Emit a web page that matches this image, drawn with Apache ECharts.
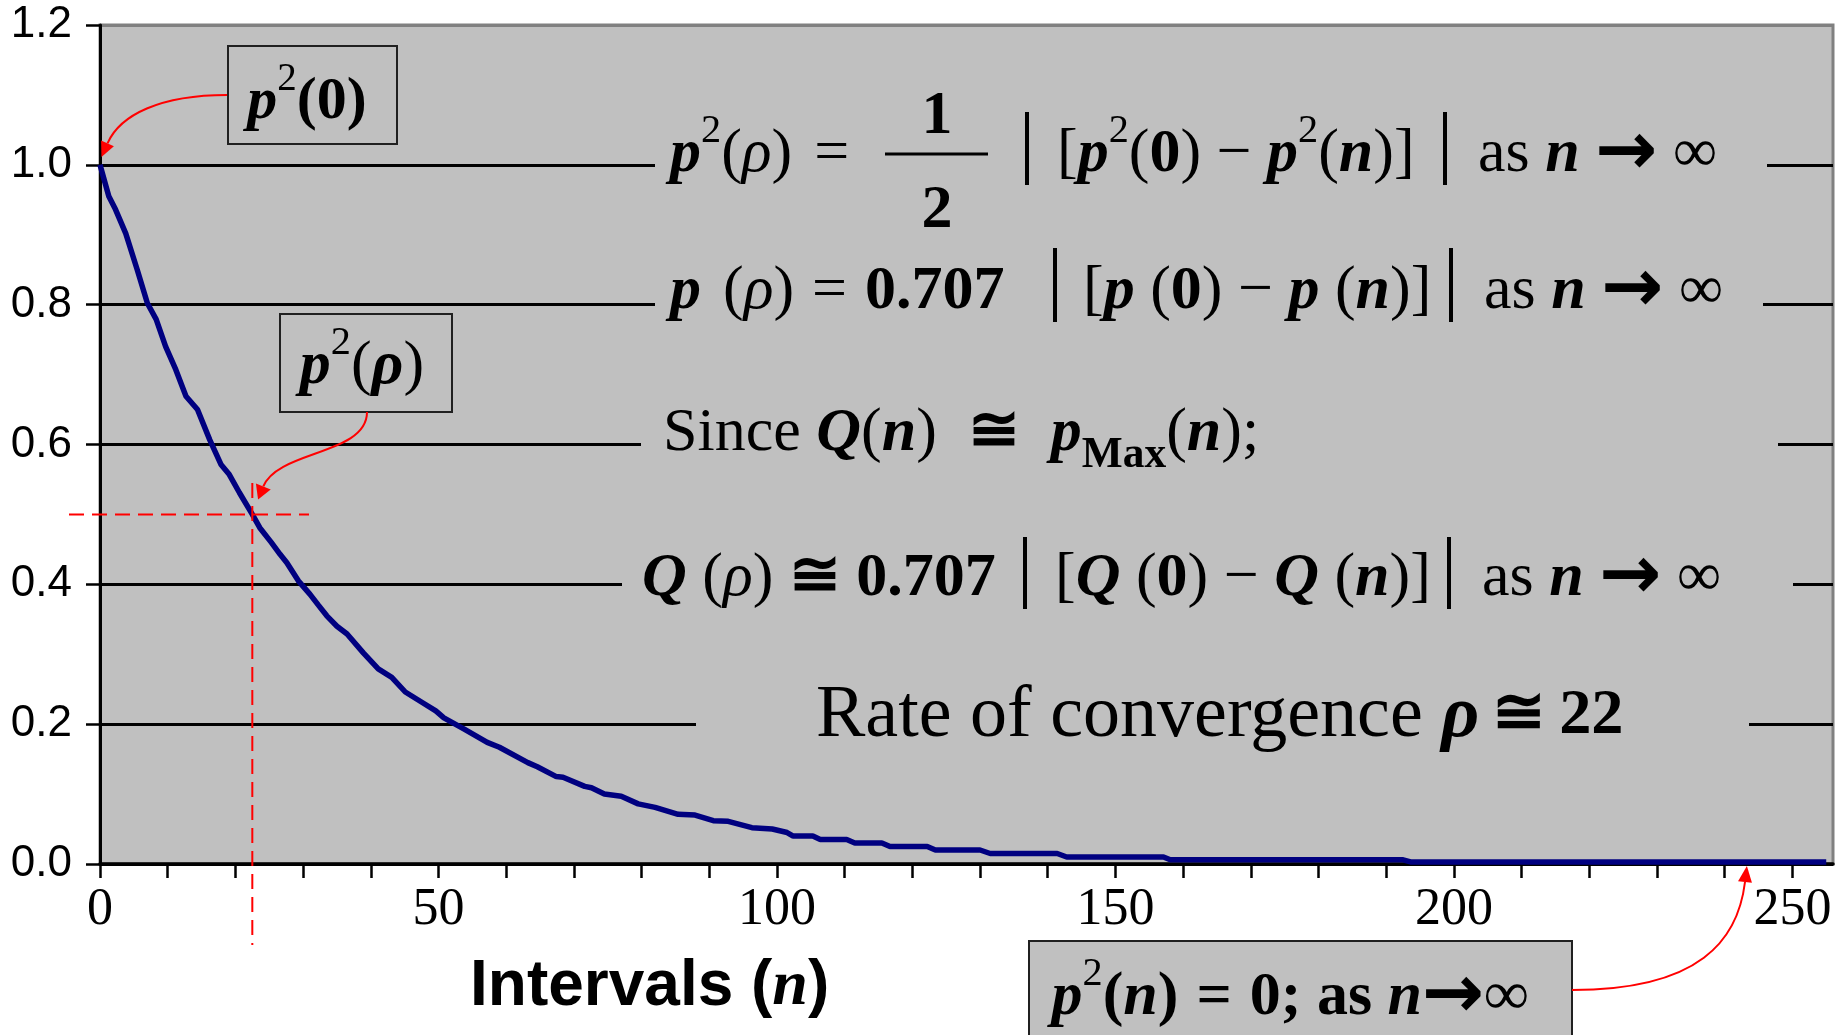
<!DOCTYPE html>
<html>
<head>
<meta charset="utf-8">
<script src="https://cdn.jsdelivr.net/npm/echarts@6/dist/echarts.min.js"></script>
<style>
html,body{margin:0;padding:0;background:#ffffff;}
#c{width:1841px;height:1035px;}
</style>
</head>
<body>
<div id="c"></div>
<script>
// ---------------- DATA ----------------
const intervals = [0,1.3,2.3,3.8,5.5,7.0,8.3,9.7,11.2,12.7,
  14.4,16.2,17.9,19.1,20.6,22.5,23.6,25.3,26.6,27.6,
  29.3,31.0,32.2,33.5,35.0,36.5,38.9,41.1,43.1,45.1,
  47.6,49.6,50.8,53.8,57.2,59.0,63.2,64.6,67.4,68.4,
  71.6,72.6,74.5,77.0,79.5,82.0,85.4,87.9,90.6,92.8,
  96.3,99.3,101.5,102.4,105.3,106.4,110.3,111.5,115.5,116.7,
  122.2,123.4,130.0,131.5,141.4,142.8,157.1,158.1,192.5,193.6,
  255];
const p2Values = [1.000,0.955,0.936,0.902,0.850,0.802,0.779,0.740,0.707,0.669,
  0.650,0.607,0.571,0.557,0.531,0.500,0.481,0.460,0.443,0.431,
  0.405,0.386,0.371,0.355,0.340,0.329,0.302,0.279,0.267,0.246,
  0.231,0.219,0.209,0.193,0.174,0.167,0.145,0.139,0.125,0.124,
  0.111,0.109,0.100,0.097,0.086,0.081,0.071,0.070,0.062,0.061,
  0.052,0.050,0.045,0.040,0.040,0.035,0.035,0.030,0.030,0.025,
  0.025,0.020,0.020,0.015,0.015,0.010,0.010,0.006,0.006,0.003,
  0.003];
const xTickValues = [0,10,20,30,40,50,60,70,80,90,100,110,120,130,140,150,160,170,180,190,200,210,220,230,240,250];
const xLabelValues = [0,50,100,150,200,250];
const yTickValues = [0,0.2,0.4,0.6,0.8,1.0,1.2];
const rhoMarkN = 22.5;      // dashed guide: rate of convergence
const halfValue = 0.5;      // dashed guide: half of p^2(0)
const startValue = 1.0;     // p^2(0)

// ---------------- STYLE ----------------
const SERIF = '"Liberation Serif","Times New Roman",serif';
const SANS = '"Liberation Sans",Arial,sans-serif';
const GRAY = '#c0c0c0';
const MID = 0.26; // baseline -> middle offset factor

const seriesData = intervals.map((n, i) => [n, p2Values[i]]);

const option = {
  animation: false,
  backgroundColor: '#ffffff',
  grid: {
    left: 100, right: 8, top: 25, bottom: 171,
    show: true, backgroundColor: GRAY, borderColor: '#808080', borderWidth: 3,
    containLabel: false, outerBoundsMode: 'none'
  },
  xAxis: {
    type: 'value', min: 0, max: 256, interval: 10,
    axisLine: { show: true, onZero: false, lineStyle: { color: '#000', width: 3.5 } },
    axisTick: { show: true, length: 14, lineStyle: { color: '#000', width: 2.5 }, customValues: xTickValues },
    axisLabel: { show: true, margin: 20, fontFamily: SERIF, fontSize: 52, color: '#000', customValues: xLabelValues,
      formatter: v => String(v) },
    splitLine: { show: false }
  },
  yAxis: {
    type: 'value', min: 0, max: 1.2, interval: 0.2,
    axisLine: { show: true, lineStyle: { color: '#000', width: 3 } },
    axisTick: { show: true, length: 14, lineStyle: { color: '#000', width: 2.5 } },
    axisLabel: { show: true, margin: 28, fontFamily: SANS, fontSize: 44, color: '#000',
      formatter: v => v.toFixed(1) },
    splitLine: { show: true, lineStyle: { color: ['#000','#000','#000','#000','#000','#000','#808080'], width: 3 } }
  },
  series: [{
    type: 'line', data: seriesData, showSymbol: false, symbol: 'none', smooth: false,
    lineStyle: { color: '#000080', width: 5.5 }, z: 3, clip: false
  }]
};

const chart = echarts.init(document.getElementById('c'));
chart.setOption(option);

const P = (x, y) => chart.convertToPixel({ gridIndex: 0 }, [x, y]);

function richStyles(fs) {
  const H = 1.4 * fs;
  const base = { fontFamily: SERIF, fontSize: fs, lineHeight: H, color: '#000' };
  const st = {
    r: Object.assign({}, base),
    b: Object.assign({}, base, { fontWeight: 'bold' }),
    bs: Object.assign({}, base, { fontWeight: 'bold', fontSize: 0.87 * fs }),
    i: Object.assign({}, base, { fontStyle: 'italic' }),
    bi: Object.assign({}, base, { fontStyle: 'italic', fontWeight: 'bold' }),
    arr: Object.assign({}, base, { fontFamily: '"DejaVu Sans",sans-serif', fontWeight: 'bold', fontSize: 1.2 * fs }),
    sup: Object.assign({}, base, { fontSize: 0.65 * fs, lineHeight: H - 0.318 * fs, verticalAlign: 'top' }),
    sub: Object.assign({}, base, { fontSize: 0.7 * fs, fontWeight: 'bold', lineHeight: H - 1.003 * fs, verticalAlign: 'bottom' })
  };
  [6, 10, 14, 18, 22, 26].forEach(w => { st['w' + w] = Object.assign({}, base, { width: w }); });
  return st;
}
function rt(x, baseline, fs, segs, align) {
  return {
    type: 'text', z: 20,
    style: {
      x: x, y: baseline - MID * fs,
      text: segs.map(s => '{' + s[0] + '|' + s[1] + '}').join(''),
      align: align || 'left', verticalAlign: 'middle', rich: richStyles(fs)
    }
  };
}
function plain(x, baseline, fs, txt, weight) {
  return { type: 'text', z: 20, style: { x: x, y: baseline - MID * fs, text: txt, fontFamily: SERIF,
    fontSize: fs, fontWeight: weight || 'normal', fill: '#000', align: 'center', verticalAlign: 'middle' } };
}
function vbar(x, y1, y2, w) {
  return { type: 'line', z: 20, shape: { x1: x, y1: y1, x2: x, y2: y2 }, style: { stroke: '#000', lineWidth: w || 4 } };
}
function box(x, y, w, h) {
  return { type: 'rect', z: 15, shape: { x: x, y: y, width: w, height: h }, style: { fill: GRAY, stroke: '#202020', lineWidth: 2 } };
}
function arrow(p0, c1, c2, end, headLen, headW) {
  let dx = end[0] - c2[0], dy = end[1] - c2[1];
  const L = Math.sqrt(dx * dx + dy * dy); dx /= L; dy /= L;
  const tip = [end[0] + dx * headLen, end[1] + dy * headLen];
  const nx = -dy, ny = dx;
  return [
    { type: 'bezierCurve', z: 25, shape: { x1: p0[0], y1: p0[1], cpx1: c1[0], cpy1: c1[1], cpx2: c2[0], cpy2: c2[1], x2: end[0], y2: end[1] },
      style: { stroke: '#ff0000', lineWidth: 2, fill: null } },
    { type: 'polygon', z: 25, shape: { points: [tip, [end[0] + nx * headW / 2, end[1] + ny * headW / 2], [end[0] - nx * headW / 2, end[1] - ny * headW / 2]] },
      style: { fill: '#ff0000' } }
  ];
}
const asN = [['r', 'as '], ['bi', 'n'], ['r', ' '], ['arr', '\u2192'], ['r', ' \u221e']];
const SP = ' ';

// gridline gaps behind the formulas: [value, from px, to px]
const gaps = [[1.0, 655, 1767], [0.8, 655, 1763], [0.6, 641, 1778], [0.4, 622, 1793], [0.2, 696, 1749]];

const g = [];
gaps.forEach(a => {
  const y = P(0, a[0])[1];
  g.push({ type: 'rect', z: 10, shape: { x: a[1], y: y - 4, width: a[2] - a[1], height: 8 }, style: { fill: GRAY } });
});

// Line 1
g.push(rt(670, 171, 62, [['bi', 'p'], ['sup', '2'], ['r', '('], ['i', '\u03c1'], ['r', ')'], ['w22', SP], ['r', '=']]));
g.push(plain(937, 133, 62, '1', 'bold'));
g.push(plain(937, 227, 62, '2', 'bold'));
g.push({ type: 'line', z: 20, shape: { x1: 885, y1: 154, x2: 988, y2: 154 }, style: { stroke: '#000', lineWidth: 3 } });
g.push(vbar(1027, 112, 185)); g.push(vbar(1445, 112, 185));
g.push(rt(1057, 171, 62, [['r', '['], ['bi', 'p'], ['sup', '2'], ['r', '('], ['b', '0'], ['r', ') \u2212 '], ['bi', 'p'], ['sup', '2'], ['r', '('], ['bi', 'n'], ['r', ')]']]));
g.push(rt(1478, 171, 62, asN));
// Line 2
g.push(rt(670, 308, 62, [['bi', 'p'], ['w22', SP], ['r', '('], ['i', '\u03c1'], ['r', ')'], ['w18', SP], ['r', '='], ['w18', SP], ['b', '0.707']]));
g.push(vbar(1055, 248, 322)); g.push(vbar(1451, 248, 322));
g.push(rt(1083, 308, 62, [['r', '['], ['bi', 'p'], ['r', ' ('], ['b', '0'], ['r', ') \u2212 '], ['bi', 'p'], ['r', ' ('], ['bi', 'n'], ['r', ')]']]));
g.push(rt(1484, 308, 62, asN));
// Line 3
g.push(rt(663, 450, 62, [['r', 'Since '], ['bi', 'Q'], ['r', '('], ['bi', 'n'], ['r', ')  '], ['b', '\u2245'], ['r', '  '], ['bi', 'p'], ['sub', 'Max'], ['r', '('], ['bi', 'n'], ['r', ');']]));
// Line 4
g.push(rt(642, 595, 62, [['bi', 'Q'], ['r', ' ('], ['i', '\u03c1'], ['r', ') '], ['b', '\u2245'], ['b', ' 0.707']]));
g.push(vbar(1025, 537, 609)); g.push(vbar(1449, 537, 609));
g.push(rt(1055, 595, 62, [['r', '['], ['bi', 'Q'], ['r', ' ('], ['b', '0'], ['r', ') \u2212 '], ['bi', 'Q'], ['r', ' ('], ['bi', 'n'], ['r', ')]']]));
g.push(rt(1482, 595, 62, asN));
// Line 5
g.push(rt(816, 736, 74, [['r', 'Rate of convergence '], ['bi', '\u03c1'], ['bs', '\u2009\u2245\u2009'], ['bs', '22']]));

// Boxes
g.push(box(228, 46, 169, 98));
g.push(rt(307, 118, 60, [['bi', 'p'], ['sup', '2'], ['b', '(0)']], 'center'));
g.push(box(280, 314, 172, 98));
g.push(rt(362, 383, 62, [['bi', 'p'], ['sup', '2'], ['r', '('], ['bi', '\u03c1'], ['r', ')']], 'center'));
g.push(box(1029, 941, 543, 110));
g.push(rt(1290, 1014, 62, [['bi', 'p'], ['sup', '2'], ['b', '('], ['bi', 'n'], ['b', ')'], ['w18', SP], ['b', '='], ['w18', SP], ['b', '0; as '], ['bi', 'n'], ['arr', '\u2192'], ['b', '\u221e']], 'center'));

// Arrows (tips anchored near data points)
const t0 = P(0, startValue);
arrow([227, 95], [160, 95], [120, 115], [t0[0] + 7.5, t0[1] - 21.5], 15, 14).forEach(e => g.push(e));
const tr = P(rhoMarkN, halfValue);
arrow([367, 412], [367, 455], [278, 450], [tr[0] + 11, tr[1] - 28], 14, 16).forEach(e => g.push(e));
const te = P(243, 0);
arrow([1572, 990], [1700, 990], [1738, 940], [te[0], te[1] + 18], 16, 14).forEach(e => g.push(e));

// Dashed guides
const hy = P(0, halfValue)[1];
const vx = P(rhoMarkN, 0)[0];
g.push({ type: 'line', z: 22, shape: { x1: 69, y1: hy, x2: 309, y2: hy }, style: { stroke: '#ff0000', lineWidth: 2, lineDash: [15, 8] } });
g.push({ type: 'line', z: 22, shape: { x1: vx, y1: 483, x2: vx, y2: 945 }, style: { stroke: '#ff0000', lineWidth: 2, lineDash: [15, 8] } });

// Axis title
g.push({ type: 'text', z: 20, style: { x: 470, y: 1010 - 0.3465 * 64, align: 'left', verticalAlign: 'middle',
  text: '{a|Intervals (}{n|n}{a|)}',
  rich: { a: { fontFamily: SANS, fontWeight: 'bold', fontSize: 64, lineHeight: 80, color: '#000' },
          n: { fontFamily: SERIF, fontWeight: 'bold', fontStyle: 'italic', fontSize: 64, lineHeight: 80, color: '#000' } } } });

chart.setOption({ graphic: g });
</script>
</body>
</html>
